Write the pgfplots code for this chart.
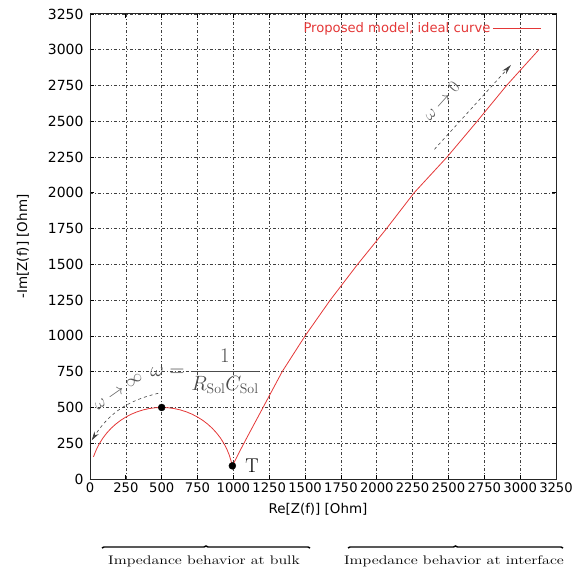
\documentclass[border=0pt]{standalone}
\usepackage{fontspec}
\setsansfont{DejaVu Sans}
\usepackage{graphicx}
\usepackage{pgfplots}
\pgfplotsset{compat=1.18}
\usetikzlibrary{arrows.meta,decorations.pathreplacing}
\definecolor{curvered}{RGB}{228,55,55}
\begin{document}
\begin{tikzpicture}
\begin{axis}[
  scale only axis,
  width=466bp, height=465bp,
  xmin=0, xmax=3250, ymin=0, ymax=3250,
  xtick distance=250, ytick distance=250,
  scaled ticks=false,
  /pgf/number format/assume math mode=true,
  /pgf/number format/1000 sep={},
  xticklabel style={font=\sffamily\fontsize{13.2}{15}\selectfont},
  yticklabel style={font=\sffamily\fontsize{14}{15}\selectfont, xshift=-3bp},
  axis line style={line width=1pt, black!85},
  grid=major,
  major grid style={dash pattern=on 3pt off 2pt on 1pt off 2pt, black!75, line width=0.6pt},
  tick style={black, line width=0.8pt},
  major tick length=4pt,
  xlabel={Re[Z(f)] [Ohm]},
  ylabel={-Im[Z(f)] [Ohm]},
  xlabel style={font=\sffamily\fontsize{13.5}{15}\selectfont, at={(axis description cs:0.5,0)}, anchor=center, yshift=-30bp, xshift=-5bp},
  ylabel style={font=\sffamily\fontsize{13.5}{15}\selectfont, at={(axis description cs:-0.1438,0.5)}, anchor=center},
  legend plot pos=right,
  legend image code/.code={\path (0bp,0bp) -- (8bp,0bp); \draw[curvered, line width=0.8pt] (8bp,0bp) -- (48bp,0bp);},
  legend style={draw=none, fill=none, text=curvered, font=\sffamily\fontsize{13.2}{15}\selectfont, at={(rel axis cs:0.975,0.99)}, anchor=north east},
  clip=false,
]
\addplot[curvered, line width=0.8pt] coordinates {
(24.5,154.5) (30.2,171.0) (46.8,211.3) (67.0,250.0) (90.4,286.8) (117.0,321.4)
(146.4,353.6) (178.6,383.0) (213.2,409.6) (250.0,433.0) (288.7,453.2) (329.0,469.8)
(370.6,483.0) (413.2,492.4) (456.4,498.1) (500,500) (543.6,498.1) (586.8,492.4)
(629.4,483.0) (671.0,469.8) (711.3,453.2) (750.0,433.0) (786.8,409.6) (821.4,383.0)
(853.6,353.6) (883.0,321.4) (909.6,286.8) (933.0,250.0) (953.2,211.3) (969.8,171.0)
(983.0,129.4) (989.1,104.0) (993,92)
(1050,205) (1100,300) (1207,500) (1340,750) (1500,1000) (1675,1250) (1866,1500)
(2068,1750) (2260,2000) (2490,2250) (2700,2500) (2905,2750) (3130,3000)
};
\addlegendentry{Proposed model, ideal curve}
\addplot[only marks, mark=*, mark size=3.5pt, black, forget plot] coordinates {(500,500) (993,92)};

% annotations
\node[font=\fontsize{20}{22}\selectfont] at (axis cs:1130,95) {T};
\node[text=black!70, font=\fontsize{20}{24}\selectfont, anchor=west, inner sep=0pt] at (axis cs:420,752) {$\omega=\displaystyle\frac{1}{R_{\mathrm{Sol}}C_{\mathrm{Sol}}}$};
\draw[black!75, dashed, line width=0.6pt, -{Stealth[length=9pt,width=5pt]}] (axis cs:476,599) to[bend right=22] (axis cs:12,270);
\node[text=black!65, rotate=35, font=\fontsize{19}{22}\selectfont] at (axis cs:200,610) {$\omega\to\infty$};
\draw[black!75, dashed, line width=0.6pt, -{Stealth[length=10pt,width=5pt]}] (axis cs:2402,2304) -- (axis cs:2936,2894);
\node[text=black!65, rotate=48, font=\fontsize{19}{22}\selectfont] at (axis cs:2450,2640) {$\omega\to0$};

\coordinate (O) at (rel axis cs:0,0);
\coordinate (TR) at (rel axis cs:1,1);
\end{axis}
% bottom braces
\draw[line width=1.4pt, decorate, decoration={brace, amplitude=2pt}] ([shift={(12bp,-69bp)}]O) -- ([shift={(220bp,-69bp)}]O);
\node at ([shift={(114bp,-82bp)}]O) {\scalebox{1.28}[1]{\fontsize{12.5}{14}\selectfont Impedance behavior at bulk}};
\draw[line width=1.4pt, decorate, decoration={brace, amplitude=2pt}] ([shift={(258bp,-69bp)}]O) -- ([shift={(473bp,-69bp)}]O);
\node at ([shift={(364bp,-82bp)}]O) {\scalebox{1.28}[1]{\fontsize{12.5}{14}\selectfont Impedance behavior at interface}};
\pgfresetboundingbox
\path ([shift={(-90bp,-91bp)}]O) rectangle ([shift={(19bp,14bp)}]TR);
\end{tikzpicture}
\end{document}
